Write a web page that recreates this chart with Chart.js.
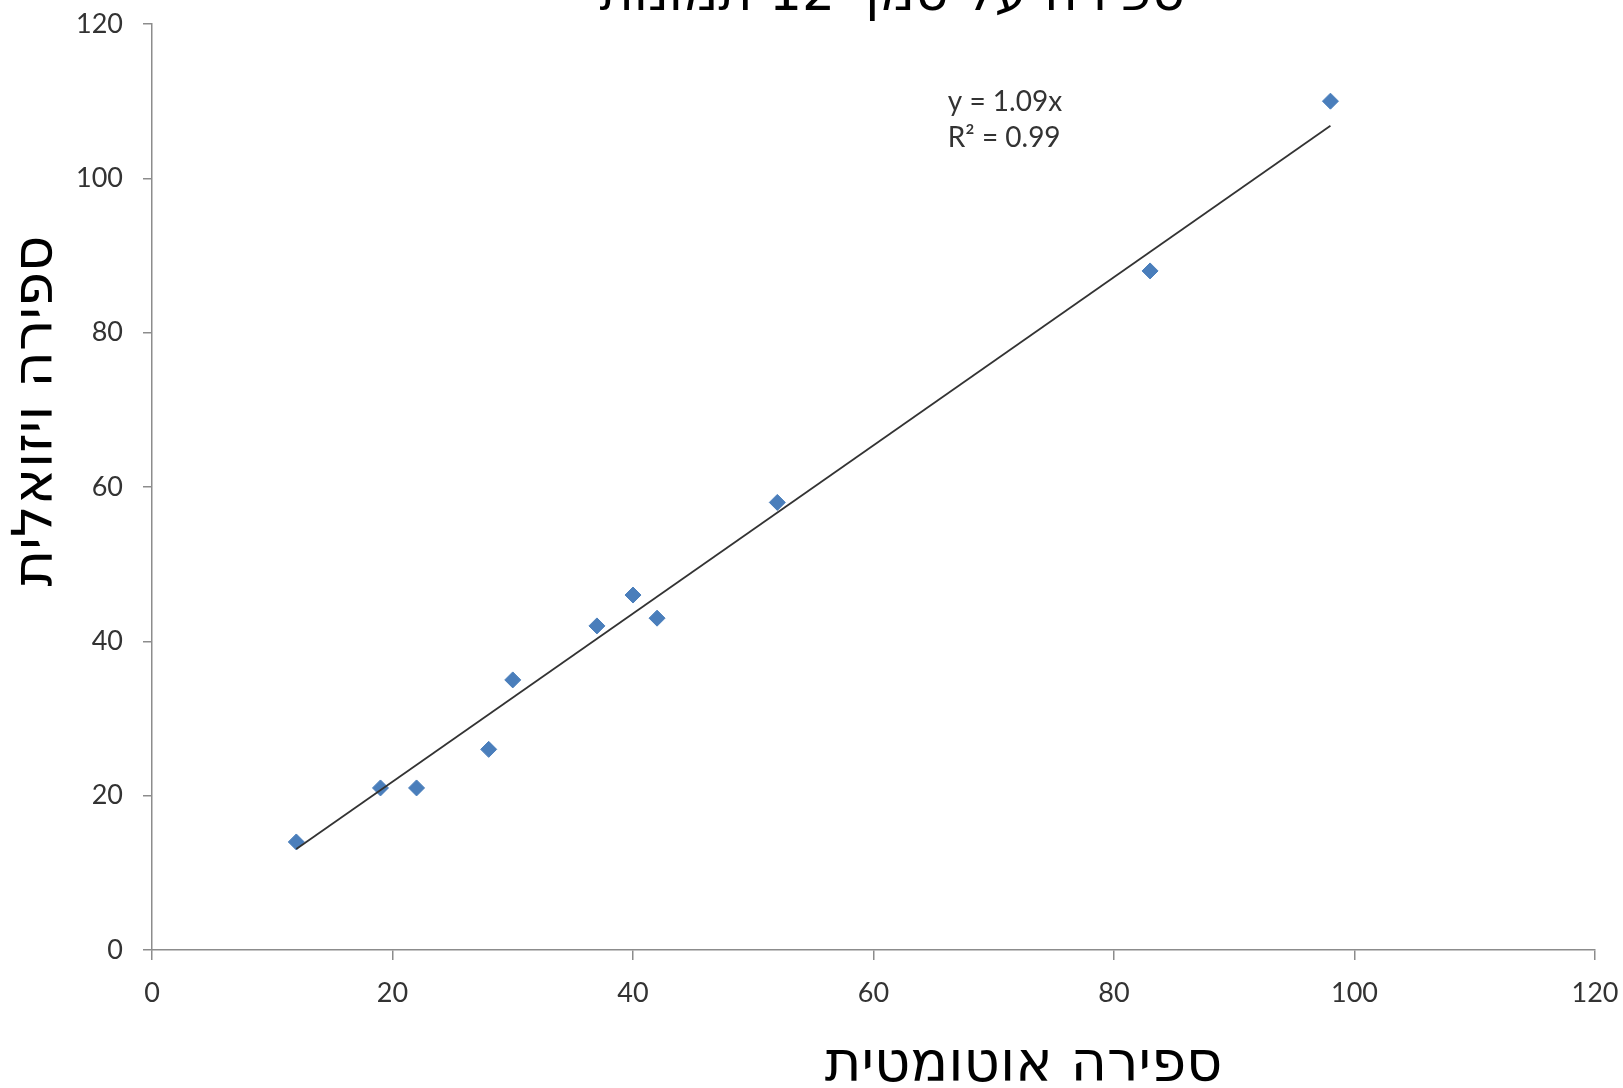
<!DOCTYPE html>
<html lang="he">
<head>
<meta charset="utf-8">
<script src="https://cdn.jsdelivr.net/npm/chart.js@4.4.1/dist/chart.umd.min.js"></script>
<style>
  html, body { margin: 0; padding: 0; background: #fff; }
  canvas { display: block; }
</style>
</head>
<body>
<canvas id="myChart" width="1623" height="1088"></canvas>
<script>
// values
const autoCount = [12, 19, 22, 28, 30, 37, 40, 42, 52, 83, 98];
const visualCount = [14, 21, 21, 26, 35, 42, 46, 43, 58, 88, 110];
const trendX = [12, 98];
const trendY = [13.1, 106.8];
const equationLines = ['y = 1.09x', 'R² = 0.99'];

const titleText = 'ספירה על סמך 12 תמונות';
const xTitle = 'ספירה אוטומטית';
const yTitle = 'ספירה ויזואלית';

const tickFont = { family: 'Lato, "Open Sans", sans-serif', size: 27 };
const hebFamily = '"DejaVu Sans", "Noto Sans", sans-serif';

// title (clipped at the top edge, as in the original), axis titles and trendline label
const labelsPlugin = {
    id: 'labels',
    afterDraw(chart) {
        const { ctx, chartArea: { left, right, top, bottom, width, height } } = chart;
        ctx.save();
        ctx.fillStyle = '#000';
        ctx.direction = 'rtl';
        ctx.textAlign = 'center';

        ctx.font = '52px ' + hebFamily;
        ctx.textBaseline = 'alphabetic';
        ctx.fillText(titleText, left + width * 0.513, top - 14);

        ctx.font = '56px ' + hebFamily;
        ctx.textBaseline = 'middle';
        ctx.fillText(xTitle, left + width * 0.604, bottom + 116);

        ctx.translate(37, top + height * 0.418);
        ctx.rotate(-Math.PI / 2);
        ctx.fillText(yTitle, 0, 0);
        ctx.restore();

        ctx.save();
        ctx.fillStyle = '#333';
        ctx.font = '28px Lato, "Open Sans", sans-serif';
        ctx.textAlign = 'left';
        ctx.textBaseline = 'middle';
        equationLines.forEach((line, i) => {
            ctx.fillText(line, left + width * 0.5515, top + 78 + i * 36);
        });
        ctx.restore();
    }
};

const config = {
    type: 'scatter',
    data: {
        datasets: [
            {
                label: 'trend',
                data: trendX.map((x, i) => ({ x, y: trendY[i] })),
                showLine: true,
                borderColor: '#333',
                borderWidth: 1.8,
                pointRadius: 0
            },
            {
                label: 'counts',
                data: autoCount.map((x, i) => ({ x, y: visualCount[i] })),
                pointStyle: 'rectRot',
                pointRadius: 8,
                backgroundColor: '#4a7ebb',
                borderColor: '#4a7ebb',
                borderWidth: 1
            }
        ]
    },
    options: {
        responsive: false,
        animation: false,
        layout: { padding: { left: 0, right: 28, top: 24, bottom: 0 } },
        plugins: {
            legend: { display: false },
            tooltip: { enabled: false },
            title: { display: false }
        },
        scales: {
            x: {
                type: 'linear',
                min: 0,
                max: 120,
                ticks: { stepSize: 20, color: '#333', font: tickFont, padding: 17, maxRotation: 0 },
                grid: { drawOnChartArea: false, drawTicks: true, tickLength: 10, color: '#8c8c8c', lineWidth: 1.5 },
                border: { color: '#8c8c8c', width: 1.5 },
                afterFit(scale) {
                    scale.height = 138;
                    scale.paddingLeft = 0;
                    scale.paddingRight = 0;
                }
            },
            y: {
                min: 0,
                max: 120,
                ticks: { stepSize: 20, color: '#333', font: tickFont, padding: 20 },
                grid: { drawOnChartArea: false, drawTicks: true, tickLength: 9, color: '#8c8c8c', lineWidth: 1.5 },
                border: { color: '#8c8c8c', width: 1.5 },
                afterFit(scale) {
                    scale.width = 152;
                    scale.paddingTop = 0;
                    scale.paddingBottom = 0;
                }
            }
        }
    },
    plugins: [labelsPlugin]
};

new Chart(document.getElementById('myChart'), config);
</script>
</body>
</html>
